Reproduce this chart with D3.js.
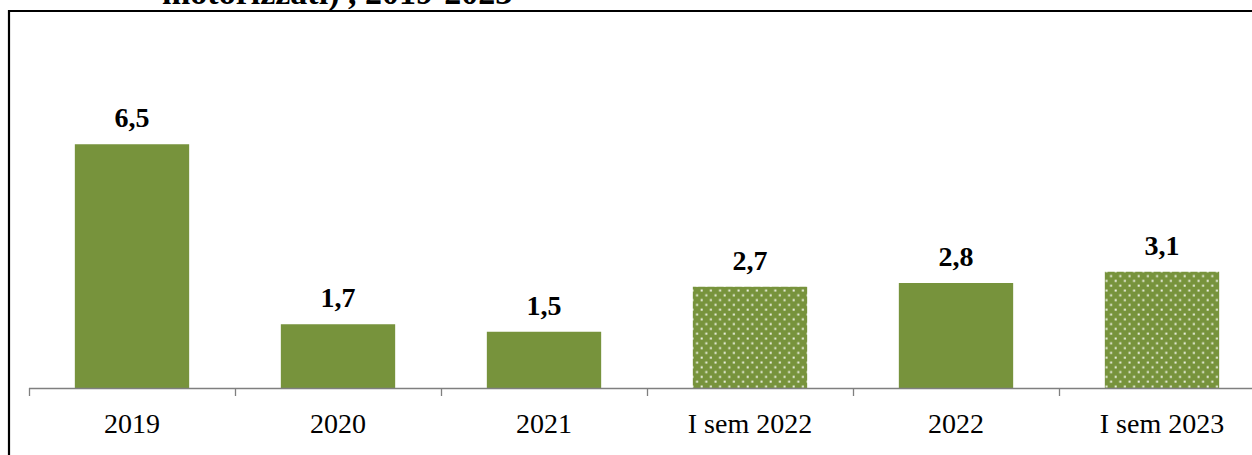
<!DOCTYPE html>
<html>
<head>
<meta charset="utf-8">
<script src="https://cdn.jsdelivr.net/npm/d3@7"></script>
<style>
  html, body { margin: 0; padding: 0; background: #fff; overflow: hidden; }
  svg { display: block; }
</style>
</head>
<body>
<div id="chart"></div>
<script>
// data
var categories = ["2019", "2020", "2021", "I sem 2022", "2022", "I sem 2023"];
var values = [6.5, 1.7, 1.5, 2.7, 2.8, 3.1];
var dotted = [false, false, false, true, false, true];   // half-year bars are drawn with the dot pattern
var titleText = "motorizzati) , 2019-2023";

var width = 1252, height = 455;
var barColor = "#77933c";

var svg = d3.select("#chart").append("svg")
    .attr("width", width)
    .attr("height", height);

// dot pattern for the semester bars
var defs = svg.append("defs");
var pat = defs.append("pattern")
    .attr("id", "dots")
    .attr("patternUnits", "userSpaceOnUse")
    .attr("width", 9.2)
    .attr("height", 9.6);
pat.append("rect").attr("width", 9.2).attr("height", 9.6).attr("fill", barColor);
pat.append("rect").attr("x", 1.5).attr("y", 1.5).attr("width", 2).attr("height", 2).attr("fill", "#eef2e4");
pat.append("rect").attr("x", 6.1).attr("y", 6.3).attr("width", 2).attr("height", 2).attr("fill", "#eef2e4");

// frame (cut off on right/bottom)
svg.append("path")
    .attr("d", "M9," + (height + 5) + "V11H" + (width + 5))
    .attr("fill", "none")
    .attr("stroke", "#000")
    .attr("stroke-width", 2.2);

// title, mostly cut off at the top
svg.append("text")
    .attr("x", 162)
    .attr("y", 4)
    .attr("font-family", "Liberation Serif, serif")
    .attr("font-weight", "bold")
    .attr("font-size", 34)
    .attr("fill", "#000")
    .text(titleText);

var baseY = 388;

var x = d3.scaleBand()
    .domain(categories)
    .range([29, 1265])
    .paddingInner(0.445)
    .paddingOuter(0.2225);

var y = d3.scaleLinear()
    .domain([0, 10])
    .range([baseY, baseY - 375]);

var g = svg.append("g");

g.selectAll("rect.bar")
    .data(values)
    .enter().append("rect")
    .attr("class", "bar")
    .attr("x", function(d, i) { return x(categories[i]); })
    .attr("y", function(d) { return y(d); })
    .attr("width", x.bandwidth())
    .attr("height", function(d) { return y(0) - y(d); })
    .attr("fill", function(d, i) { return dotted[i] ? "url(#dots)" : barColor; });

g.selectAll("text.val")
    .data(values)
    .enter().append("text")
    .attr("class", "val")
    .attr("x", function(d, i) { return x(categories[i]) + x.bandwidth() / 2; })
    .attr("y", function(d) { return y(d) - 17; })
    .attr("text-anchor", "middle")
    .attr("font-family", "Liberation Serif, serif")
    .attr("font-weight", "bold")
    .attr("font-size", 28)
    .attr("fill", "#000")
    .text(function(d) { return d3.format(".1f")(d).replace(".", ","); });

// x axis: line + ticks at category boundaries
var step = x.step();
var tickXs = d3.range(categories.length + 1).map(function(i) { return x.range()[0] + i * step; });

g.append("line")
    .attr("x1", 29).attr("x2", width + 5)
    .attr("y1", baseY + 0.5).attr("y2", baseY + 0.5)
    .attr("stroke", "#7f7f7f")
    .attr("stroke-width", 1.3);

g.selectAll("line.tick")
    .data(tickXs)
    .enter().append("line")
    .attr("class", "tick")
    .attr("x1", function(d) { return Math.round(d) + 0.5; })
    .attr("x2", function(d) { return Math.round(d) + 0.5; })
    .attr("y1", baseY)
    .attr("y2", baseY + 8)
    .attr("stroke", "#7f7f7f")
    .attr("stroke-width", 1.3);

g.selectAll("text.cat")
    .data(categories)
    .enter().append("text")
    .attr("class", "cat")
    .attr("x", function(d) { return x(d) + x.bandwidth() / 2; })
    .attr("y", 433)
    .attr("text-anchor", "middle")
    .attr("font-family", "Liberation Serif, serif")
    .attr("font-size", 28)
    .attr("fill", "#000")
    .text(function(d) { return d; });
</script>
</body>
</html>
